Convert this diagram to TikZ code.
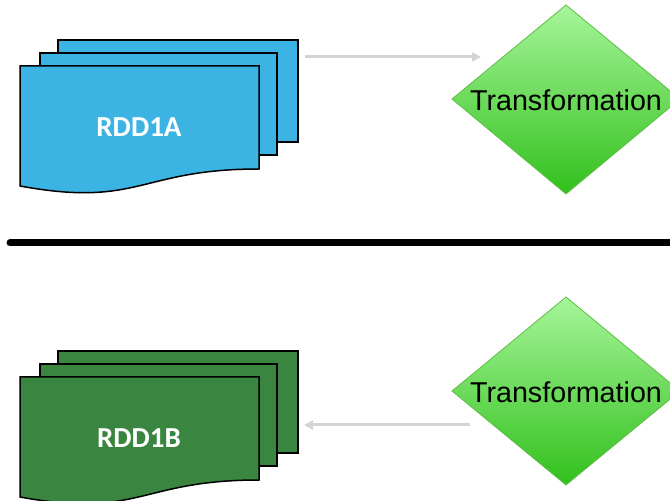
\documentclass[tikz,border=0pt]{standalone}
\usepackage{fontspec}
\setmainfont{Liberation Sans}
\newfontfamily\calib{Carlito}
\usetikzlibrary{arrows.meta}
\definecolor{rddblue}{RGB}{59,179,227}
\definecolor{rddgreen}{RGB}{58,133,64}
\definecolor{dtop}{RGB}{166,245,154}
\definecolor{dbot}{RGB}{50,192,28}
\definecolor{dedge}{RGB}{96,190,72}
\definecolor{flow}{RGB}{212,212,212}
\tikzset{
  sheet/.style={draw=black, line width=1.5pt, line join=miter},
  rddlabel/.style={text=white, font=\calib\bfseries\fontsize{29}{29}\selectfont},
  decision/.style={top color=dtop, bottom color=dbot, draw=dedge, line width=0.8pt},
  translabel/.style={text=black, font=\fontsize{28.7}{28.7}\selectfont, inner sep=0pt},
  flowarrow/.style={draw=flow, line width=3pt, -{Triangle[length=9pt,width=9pt]}},
  divider/.style={line width=7pt, line cap=round, draw=black}
}
% one stack of three pages; #1 = fill colour
\newcommand{\pagestack}[1]{%
  \path[sheet, fill=#1] (58,359) rectangle (298,461);
  \path[sheet, fill=#1] (40,346) rectangle (277,448);
  \path[sheet, fill=#1] (20,435) -- (259,435) -- (259,332)
     .. controls (139.5,332) and (139.5,293) .. (20,315) -- cycle;
}
\begin{document}
\begin{tikzpicture}[x=1pt,y=1pt]
  \useasboundingbox (0,0) rectangle (670,501);
  \clip (0,0) rectangle (670,501);

  % upper half
  \begin{scope}
    \pagestack{rddblue}
  \end{scope}
  \node[rddlabel] (rddA) at (139,374) {RDD1A};
  \path[decision] (566,496) -- (680,402) -- (566,307) -- (452,402) -- cycle;
  \node[translabel] (trA) at (566,401) {Transformation};
  \coordinate (outA) at (305,444);
  \coordinate (inA) at (481,444);
  \draw[flowarrow] (outA) -- (inA);

  % separator
  \coordinate (sepL) at (10,258);
  \coordinate (sepR) at (675,258);
  \draw[divider] (sepL) -- (sepR);

  % lower half
  \begin{scope}[yshift=-311pt]
    \pagestack{rddgreen}
  \end{scope}
  \node[rddlabel] (rddB) at (139,63) {RDD1B};
  \path[decision] (566,204) -- (680,110) -- (566,16) -- (452,110) -- cycle;
  \node[translabel] (trB) at (566,109) {Transformation};
  \coordinate (outB) at (470,76);
  \coordinate (inB) at (304,76);
  \draw[flowarrow] (outB) -- (inB);
\end{tikzpicture}
\end{document}
